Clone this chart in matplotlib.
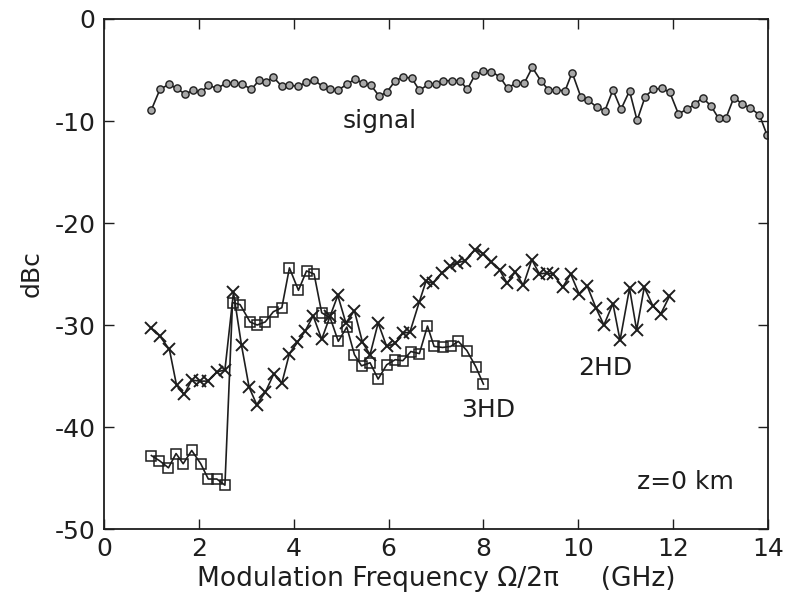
import matplotlib
matplotlib.use("Agg")
import matplotlib.pyplot as plt

plt.rcParams['font.family'] = ['DejaVu Sans']
plt.rcParams['axes.unicode_minus'] = False

# ---- data ----
sig_f = [1.00, 1.18, 1.37, 1.53, 1.71, 1.88, 2.05, 2.20, 2.39, 2.57, 2.75, 2.92,
         3.11, 3.27, 3.42, 3.57, 3.75, 3.91, 4.10, 4.26, 4.43, 4.61, 4.76, 4.93,
         5.12, 5.29, 5.47, 5.63, 5.80, 5.96, 6.14, 6.31, 6.49, 6.65, 6.84, 7.00,
         7.15, 7.33, 7.51, 7.66, 7.82, 8.00, 8.17, 8.35, 8.51, 8.69, 8.86, 9.03,
         9.21, 9.37, 9.54, 9.72, 9.87, 10.05, 10.21, 10.39, 10.56, 10.73, 10.90,
         11.08, 11.24, 11.41, 11.58, 11.76, 11.93, 12.11, 12.29, 12.46, 12.62,
         12.80, 12.96, 13.11, 13.28, 13.46, 13.63, 13.82, 13.98]
sig_db = [-8.9, -6.9, -6.4, -6.8, -7.35, -7.0, -7.2, -6.5, -6.8, -6.3, -6.3, -6.4,
          -6.9, -6.0, -6.15, -5.7, -6.6, -6.5, -6.6, -6.2, -6.0, -6.6, -6.9, -7.0,
          -6.4, -5.9, -6.3, -6.5, -7.55, -7.2, -6.05, -5.7, -5.8, -7.0, -6.4, -6.4,
          -6.05, -6.05, -6.05, -6.9, -5.5, -5.1, -5.15, -5.7, -6.8, -6.25, -6.3,
          -4.75, -6.05, -6.95, -6.95, -7.05, -5.25, -7.6, -7.95, -8.65, -9.0, -6.95,
          -8.85, -7.05, -9.95, -7.6, -6.9, -6.8, -7.2, -9.3, -8.85, -8.35, -7.7,
          -8.55, -9.75, -9.75, -7.7, -8.35, -8.75, -9.4, -11.4]

hd2_f = [1.00, 1.18, 1.38, 1.53, 1.69, 1.85, 2.02, 2.19, 2.38, 2.55, 2.73, 2.90,
         3.06, 3.22, 3.40, 3.58, 3.75, 3.91, 4.08, 4.24, 4.41, 4.59, 4.77, 4.93,
         5.10, 5.28, 5.45, 5.61, 5.78, 5.96, 6.14, 6.30, 6.45, 6.65, 6.79, 6.93,
         7.12, 7.30, 7.45, 7.61, 7.82, 8.00, 8.17, 8.34, 8.50, 8.67, 8.84, 9.02,
         9.18, 9.33, 9.47, 9.67, 9.84, 10.02, 10.19, 10.37, 10.54, 10.73, 10.88,
         11.08, 11.23, 11.39, 11.57, 11.74, 11.92]
hd2_db = [-30.3, -31.1, -32.4, -35.9, -36.8, -35.4, -35.5, -35.5, -34.6, -34.4,
          -26.8, -32.0, -36.1, -37.8, -36.6, -34.8, -35.7, -32.8, -31.7, -30.6,
          -29.1, -31.4, -29.1, -27.1, -29.8, -28.6, -31.7, -32.9, -29.8, -32.1,
          -31.8, -30.8, -30.7, -27.7, -25.7, -25.9, -24.9, -24.2, -23.9, -23.7,
          -22.6, -23.0, -23.8, -24.6, -25.9, -24.8, -26.1, -23.6, -25.0, -24.9,
          -25.0, -26.3, -25.0, -27.0, -26.2, -28.3, -30.0, -27.9, -31.5, -26.4,
          -30.5, -26.3, -28.1, -28.9, -27.2]

hd3_f = [1.00, 1.17, 1.36, 1.52, 1.67, 1.85, 2.04, 2.20, 2.38, 2.55, 2.71, 2.87,
         3.08, 3.23, 3.40, 3.57, 3.75, 3.91, 4.10, 4.27, 4.43, 4.59, 4.77, 4.94,
         5.12, 5.28, 5.43, 5.61, 5.78, 5.96, 6.14, 6.30, 6.47, 6.65, 6.82, 6.96,
         7.14, 7.31, 7.47, 7.65, 7.84, 8.00]
hd3_db = [-42.8, -43.3, -44.0, -42.6, -43.6, -42.3, -43.6, -45.1, -45.1, -45.7,
          -27.8, -28.0, -29.7, -30.0, -29.7, -28.7, -28.3, -24.4, -26.6, -24.7,
          -25.0, -28.8, -29.3, -31.6, -30.2, -32.9, -34.0, -33.7, -35.3, -33.9,
          -33.4, -33.5, -32.6, -32.8, -30.1, -32.1, -32.2, -32.1, -31.6, -32.5,
          -34.1, -35.8]

xticks = [0, 2, 4, 6, 8, 10, 12, 14]
yticks = [0, -10, -20, -30, -40, -50]

ink = '#1e1e1e'

fig = plt.figure(figsize=(7.9, 6.05), dpi=100)
ax = fig.add_axes([0.1316, 0.1256, 0.8406, 0.843])

ax.plot(sig_f, sig_db, '-', color=ink, lw=1.2, marker='o', ms=5.2,
        mfc='#a8a8a8', mec=ink, mew=1.0)
ax.plot(hd2_f, hd2_db, '-', color=ink, lw=1.2, marker='x', ms=8,
        mec=ink, mew=1.4)
ax.plot(hd3_f, hd3_db, '-', color=ink, lw=1.2, marker='s', ms=6.5,
        mfc='none', mec=ink, mew=1.1)

ax.set_xlim(0, 14)
ax.set_ylim(-50, 0)
ax.set_xticks(xticks)
ax.set_yticks(yticks)
ax.set_xticklabels([str(t) for t in xticks])
ax.set_yticklabels([str(t) for t in yticks])
ax.tick_params(direction='in', length=7, width=1.0, top=True, right=True,
               labelsize=18, colors=ink, pad=6)
for s in ax.spines.values():
    s.set_linewidth(1.3)
    s.set_color(ink)

fs = 18
ax.text(5.04, -10.7, 'signal', fontsize=fs, color=ink, ha='left', va='baseline')
ax.text(10.0, -34.9, '2HD', fontsize=fs, color=ink, ha='left', va='baseline')
ax.text(7.54, -39.05, '3HD', fontsize=fs, color=ink, ha='left', va='baseline')
ax.text(11.23, -46.1, 'z=0 km', fontsize=fs, color=ink, ha='left', va='baseline')

ax.set_xlabel('Modulation Frequency \u03a9/2\u03c0     (GHz)', fontsize=19,
              color=ink, labelpad=3)
ax.set_ylabel('dBc', fontsize=18, color=ink, labelpad=8)

fig.savefig('out.png', dpi=100)
